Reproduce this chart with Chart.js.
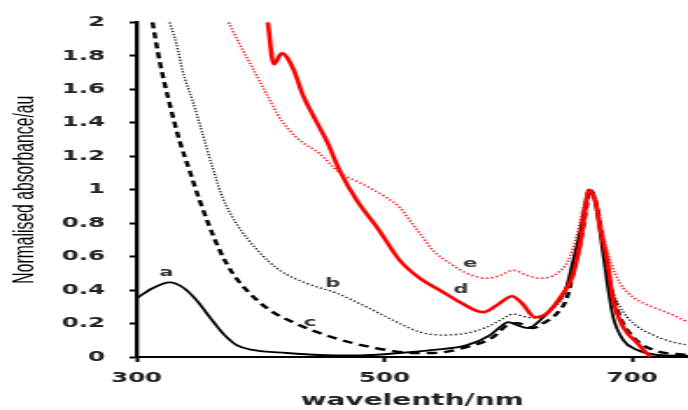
<!DOCTYPE html>
<html>
<head>
<meta charset="utf-8">
<script src="https://cdn.jsdelivr.net/npm/chart.js@4.4.1/dist/chart.umd.min.js"></script>
<style>
  html, body { margin: 0; padding: 0; background: #fff; overflow: hidden; }
  #wrap { width: 688px; height: 410px; overflow: hidden; }
  /* the source picture is stretched sideways, so draw narrow and scale */
  #chart { display: block; transform-origin: 0 0; transform: scaleX(1.7506); }
</style>
</head>
<body>
<div id="wrap"><canvas id="chart" width="393" height="410"></canvas></div>
<script>
// wavelength (nm) / normalised absorbance
const aWl  = [300, 312.9, 326.7, 337.2, 348.5, 359, 369.5, 380.8, 393.7, 421.2, 447.9, 480.2, 512.5, 539.2, 566.7, 585.3, 593.3, 599.8, 607.1, 616, 625.7, 636.2, 645.9, 652.3, 658, 662, 665, 670, 674.1, 679.8, 684.6, 692.7, 704, 720.2, 745];
const aAbs = [0.351, 0.411, 0.446, 0.417, 0.339, 0.238, 0.143, 0.071, 0.042, 0.024, 0.012, 0.009, 0.024, 0.042, 0.071, 0.131, 0.179, 0.208, 0.190, 0.173, 0.220, 0.298, 0.399, 0.577, 0.756, 0.917, 1.0, 0.935, 0.738, 0.440, 0.238, 0.101, 0.042, 0.012, 0.006];

const bWl  = [326.7, 332.3, 337.2, 345.3, 353.3, 361.4, 369.5, 381.6, 397.8, 415.6, 437.4, 461.6, 485.9, 506.9, 528.7, 547.3, 566.7, 582.8, 593.3, 603.8, 615.2, 623.2, 633.7, 644.2, 652.3, 659.6, 663.6, 665, 671.7, 676.6, 682.2, 690.3, 700.8, 717, 733.1, 745];
const bAbs = [2.0, 1.869, 1.708, 1.530, 1.333, 1.131, 0.952, 0.786, 0.637, 0.518, 0.440, 0.381, 0.298, 0.220, 0.149, 0.131, 0.143, 0.179, 0.220, 0.256, 0.238, 0.232, 0.280, 0.357, 0.518, 0.738, 0.935, 1.0, 0.875, 0.655, 0.440, 0.298, 0.202, 0.131, 0.089, 0.071];

const cWl  = [312.9, 318.6, 326.7, 334.7, 342.8, 350.9, 367.1, 377.6, 391.3, 407.5, 426.1, 447.9, 474.5, 502, 523, 539.2, 566.7, 587.7, 599, 607.1, 620, 628.1, 639.4, 647.5, 652.3, 659.6, 663.6, 666, 671.7, 676.6, 682.2, 690.3, 700.8, 717, 745];
const cAbs = [2.0, 1.768, 1.512, 1.292, 1.113, 0.935, 0.637, 0.5, 0.381, 0.280, 0.208, 0.143, 0.083, 0.042, 0.024, 0.024, 0.060, 0.119, 0.190, 0.202, 0.173, 0.202, 0.262, 0.357, 0.5, 0.738, 0.917, 1.0, 0.893, 0.679, 0.440, 0.238, 0.119, 0.042, 0.012];

const dWl  = [405.9, 410.7, 417.2, 426, 434, 442, 453.5, 464, 477.8, 494.7, 512.5, 528.7, 544.8, 561, 579.6, 590.9, 603, 611, 621.6, 631.3, 644.2, 651.5, 658, 662, 665, 670, 674, 679.8, 684.6, 692.7, 704, 714.5];
const dAbs = [2.0, 1.75, 1.815, 1.73, 1.57, 1.45, 1.29, 1.113, 0.935, 0.768, 0.577, 0.470, 0.399, 0.327, 0.268, 0.310, 0.363, 0.321, 0.238, 0.262, 0.381, 0.476, 0.679, 0.875, 1.0, 0.935, 0.774, 0.577, 0.339, 0.179, 0.083, 0.0];

const eWl  = [374.3, 383.2, 393.7, 405, 415.6, 429.3, 447.9, 464, 480.2, 502, 512.5, 520.6, 528.7, 539.2, 552.9, 566.7, 582.8, 593.3, 603.8, 615.2, 625.7, 639.4, 648.3, 655.6, 660.4, 665, 671.7, 676.6, 682.2, 690.3, 700.8, 717, 733.1, 745];
const eAbs = [2.0, 1.869, 1.726, 1.571, 1.429, 1.310, 1.214, 1.101, 1.042, 0.952, 0.893, 0.815, 0.738, 0.637, 0.560, 0.500, 0.470, 0.488, 0.518, 0.488, 0.470, 0.500, 0.577, 0.738, 0.893, 1.0, 0.917, 0.738, 0.577, 0.440, 0.357, 0.298, 0.250, 0.208];

// curve letters and where they sit
const curveNames = ['a', 'b', 'c', 'd', 'e'];
const nameWl  = [324.2, 458.4, 439.8, 561.8, 569.1];
const nameAbs = [0.50, 0.435, 0.202, 0.399, 0.554];

const xTicks = [300, 500, 700];
const yTitle = 'Normalised absorbance/au';

const pts = (xs, ys) => xs.map((x, i) => ({ x: x, y: ys[i] }));

// the y title in the picture is about 188px long, size the font to fit that
const titleFamily = '"Liberation Sans", Arial, sans-serif';
const meas = document.createElement('canvas').getContext('2d');
meas.font = '16px ' + titleFamily;
const yTitleSize = Math.min(16, 16 * 188 / meas.measureText(yTitle).width);

const curveLabels = {
    id: 'curveLabels',
    afterDatasetsDraw(chart) {
        const { ctx, scales } = chart;
        ctx.save();
        ctx.font = 'bold 12px "DejaVu Sans"';
        ctx.fillStyle = '#333';
        ctx.textAlign = 'center';
        ctx.textBaseline = 'middle';
        curveNames.forEach((n, i) => {
            ctx.fillText(n, scales.x.getPixelForValue(nameWl[i]), scales.y.getPixelForValue(nameAbs[i]));
        });
        ctx.restore();
    }
};

const base = { pointRadius: 0, fill: false, cubicInterpolationMode: 'monotone', clip: 4, borderCapStyle: 'butt' };

new Chart(document.getElementById('chart'), {
    type: 'line',
    data: {
        datasets: [
            { ...base, label: 'a', data: pts(aWl, aAbs), borderColor: '#000', borderWidth: 1.8, order: 2 },
            { ...base, label: 'b', data: pts(bWl, bAbs), borderColor: '#111', borderWidth: 1.3, borderDash: [1.3, 1.6], order: 4 },
            { ...base, label: 'c', data: pts(cWl, cAbs), borderColor: '#000', borderWidth: 2.4, borderDash: [6, 4], order: 3 },
            { ...base, label: 'd', data: pts(dWl, dAbs), borderColor: '#ff0000', borderWidth: 2.6, order: 1 },
            { ...base, label: 'e', data: pts(eWl, eAbs), borderColor: '#ff1a1a', borderWidth: 1.5, borderDash: [1.4, 1.6], order: 0 }
        ]
    },
    options: {
        responsive: false,
        animation: false,
        layout: { padding: { top: 21, right: 0, bottom: 0, left: 0 } },
        plugins: { legend: { display: false }, tooltip: { enabled: false } },
        scales: {
            x: {
                type: 'linear',
                min: 300,
                max: 745,
                afterBuildTicks: s => { s.ticks = xTicks.map(v => ({ value: v })); },
                afterFit: s => { s.height = 53; },
                border: { color: '#000', width: 2 },
                grid: { drawOnChartArea: false, drawTicks: true, tickLength: 5, tickWidth: 2, color: '#000' },
                ticks: { color: '#222', padding: 8, maxRotation: 0, font: { family: 'DejaVu Sans', weight: 'bold', size: 14 } },
                title: {
                    display: true, text: 'wavelenth/nm', color: '#222',
                    padding: { top: 0, bottom: 0 },
                    font: { family: 'DejaVu Sans', weight: 'bold', size: 16 }
                }
            },
            y: {
                min: 0,
                max: 2,
                afterFit: s => { s.width = 78; },
                border: { color: '#000', width: 2.3 },
                grid: { drawOnChartArea: false, drawTicks: true, tickLength: 4, tickWidth: 2, color: '#000' },
                ticks: {
                    stepSize: 0.2, color: '#222', padding: 14,
                    font: { family: 'DejaVu Sans', weight: 'bold', size: 14 },
                    callback: v => String(+v.toFixed(1))
                },
                title: {
                    display: true, text: yTitle, color: '#000',
                    padding: { top: 5, bottom: 0 },
                    font: { family: titleFamily, size: yTitleSize }
                }
            }
        }
    },
    plugins: [curveLabels]
});
</script>
</body>
</html>
